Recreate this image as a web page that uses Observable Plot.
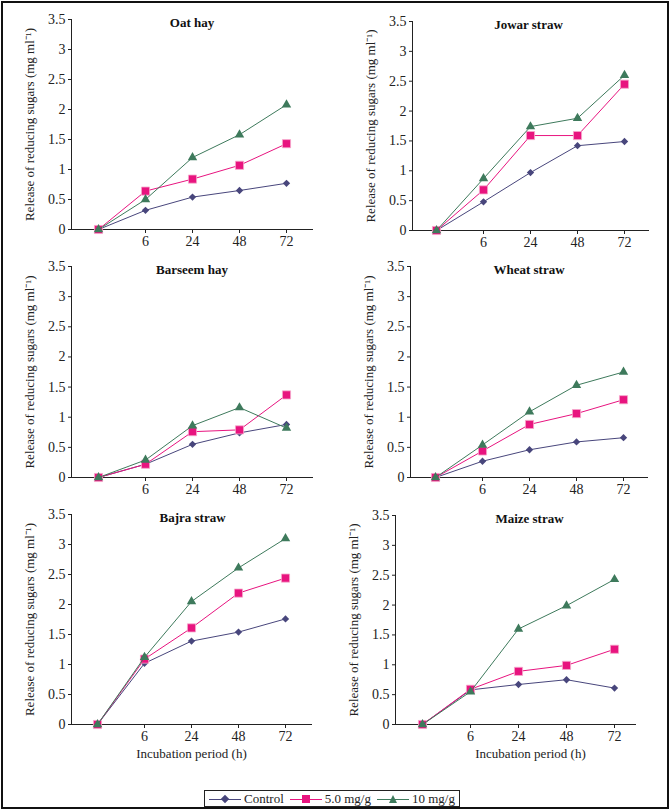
<!DOCTYPE html>
<html>
<head>
<meta charset="utf-8">
<script src="https://cdn.jsdelivr.net/npm/d3@7"></script>
<script src="https://cdn.jsdelivr.net/npm/@observablehq/plot@0.6"></script>
<style>
  body { margin: 0; background: #fff; }
  #chart { position: relative; width: 670px; height: 811px; font-family: "Liberation Serif", "Times New Roman", serif; color: #222; }
  .outer { position: absolute; left: 1px; top: 1px; width: 668px; height: 808px; box-sizing: border-box; border: 2px solid #111; pointer-events: none; }
  .panel { position: absolute; }
  .legend { position: absolute; left: 204px; top: 790px; width: 256px; height: 17px; box-sizing: border-box; border: 1px solid #222; background: #fff;
            display: flex; align-items: center; justify-content: center; font-size: 13px; line-height: 13px; white-space: nowrap; }
  .item { display: flex; align-items: center; gap: 3px; margin: 0 3px; white-space: nowrap; }
  .sw { position: relative; width: 32px; height: 12px; display: inline-block; flex: none; }
  .sw .ln { position: absolute; left: 0; right: 0; top: 6px; height: 0; border-top: 1px solid; }
  .sw .mk { position: absolute; left: 50%; top: 50%; }
</style>
</head>
<body>
<div id="chart"><div class="outer"></div></div>
<script>
// ---------- data ----------
const panelTitles = ["Oat hay", "Jowar straw", "Barseem hay", "Wheat straw", "Bajra straw", "Maize straw"];
const hours = ["0", "6", "24", "48", "72"];          // incubation period categories (h)
const xTickLabels = ["6", "24", "48", "72"];
const yTicks = [0, 0.5, 1, 1.5, 2, 2.5, 3, 3.5];
const seriesNames = ["Control", "5.0 mg/g", "10 mg/g"];
const seriesColors = ["#48467c", "#e8147f", "#3e7a5c"];
const seriesSymbols = ["diamond2", "square", "triangle"];

const controlValues = [
  [0, 0.32, 0.54, 0.65, 0.77],   // Oat hay
  [0, 0.48, 0.97, 1.42, 1.49],   // Jowar straw
  [0, 0.22, 0.55, 0.74, 0.88],   // Barseem hay
  [0, 0.27, 0.46, 0.59, 0.66],   // Wheat straw
  [0, 1.02, 1.39, 1.54, 1.76],   // Bajra straw
  [0, 0.58, 0.67, 0.75, 0.61]    // Maize straw
];
const dose5Values = [
  [0, 0.64, 0.84, 1.07, 1.43],
  [0, 0.68, 1.59, 1.59, 2.45],
  [0, 0.22, 0.76, 0.79, 1.37],
  [0, 0.44, 0.88, 1.06, 1.29],
  [0, 1.09, 1.61, 2.19, 2.44],
  [0, 0.59, 0.89, 0.99, 1.26]
];
const dose10Values = [
  [0, 0.50, 1.20, 1.58, 2.08],
  [0, 0.87, 1.74, 1.88, 2.60],
  [0, 0.29, 0.86, 1.16, 0.82],
  [0, 0.54, 1.09, 1.53, 1.75],
  [0, 1.12, 2.05, 2.61, 3.10],
  [0, 0.55, 1.60, 1.99, 2.43]
];
const yLabel = "Release of reducing sugars (mg ml\u207B\u00B9)";
const xLabel = "Incubation period (h)";

// ---------- layout (pixel geometry only) ----------
const layout = [
  {left: 0,   top: 0,   h: 247, ml: 71, mt: 19, zero: 229, x0: 72, x1: 311, right: 312, titleDx: 0},
  {left: 335, top: 0,   h: 247, ml: 77, mt: 21, zero: 230, x0: 77, x1: 312, right: 313, titleDx: -2},
  {left: 0,   top: 247, h: 247, ml: 71, mt: 19, zero: 230, x0: 72, x1: 311, right: 312, titleDx: 0},
  {left: 335, top: 247, h: 247, ml: 75, mt: 19, zero: 230, x0: 76, x1: 312, right: 312, titleDx: 0},
  {left: 0,   top: 495, h: 272, ml: 71, mt: 19, zero: 229, x0: 72, x1: 310, right: 311, titleDx: 1, xlab: true, xlabDx: 0},
  {left: 335, top: 495, h: 272, ml: 60, mt: 20, zero: 229, x0: 61, x1: 305, right: 300, titleDx: 14, xlab: true, xlabDx: 15}
];
const symbolR = [3.3, 4.6, 3.5];

const chart = document.getElementById("chart");
const allSeries = [controlValues, dose5Values, dose10Values];
const FONT = '"Liberation Serif", "Times New Roman", serif';

panelTitles.forEach((title, p) => {
  const L = layout[p];
  const W = 335;
  const marks = [
    Plot.frame({anchor: "left", stroke: "#222", strokeWidth: 1}),
    Plot.frame({anchor: "bottom", stroke: "#222", strokeWidth: 1}),
    Plot.axisY({ticks: yTicks, tickFormat: d => String(d), tickSize: 3, tickPadding: 3, label: null, fontSize: 14, fontFamily: FONT}),
    Plot.axisX({ticks: xTickLabels, tickSize: 4, tickPadding: 3, label: null, fontSize: 14, fontFamily: FONT})
  ];
  allSeries.forEach((vals, s) => {
    const rows = hours.map((h, i) => ({hour: h, value: vals[p][i]}));
    marks.push(Plot.line(rows, {x: "hour", y: "value", stroke: seriesColors[s], strokeWidth: 1}));
    marks.push(Plot.dot(rows, {
      x: "hour", y: "value", symbol: () => seriesSymbols[s], r: symbolR[s],
      fill: seriesColors[s],
      stroke: s === 1 ? "#f6a9cd" : "none", strokeWidth: s === 1 ? 0.8 : 0
    }));
  });
  marks.push(Plot.text([title], {text: d => d, frameAnchor: "top", textAnchor: "middle", dy: -2, dx: L.titleDx, fontWeight: "bold", fontSize: 13, fontFamily: FONT, fill: "#111"}));
  marks.push(Plot.text([yLabel], {text: d => d, frameAnchor: "left", textAnchor: "middle", rotate: -90, dx: -42, lineAnchor: "middle", fontSize: 13, fontFamily: FONT, fill: "#222"}));
  if (L.xlab) {
    marks.push(Plot.text([xLabel], {text: d => d, frameAnchor: "bottom", textAnchor: "middle", dy: 29, dx: L.xlabDx, lineAnchor: "middle", fontSize: 13, fontFamily: FONT, fill: "#222"}));
  }
  const svg = Plot.plot({
    width: W,
    height: L.h,
    marginLeft: L.ml,
    marginTop: L.mt,
    marginBottom: L.h - L.zero,
    marginRight: W - L.right,
    style: {fontFamily: FONT, fontSize: "14px", color: "#222", background: "transparent", overflow: "visible"},
    x: {type: "point", domain: hours, range: [L.x0, L.x1]},
    y: {domain: [0, 3.5], ticks: yTicks},
    symbol: {type: "identity"},
    marks
  });
  const div = document.createElement("div");
  div.className = "panel";
  div.style.left = L.left + "px";
  div.style.top = L.top + "px";
  div.appendChild(svg);
  chart.appendChild(div);
});

// ---------- legend ----------
const legend = document.createElement("div");
legend.className = "legend";
seriesNames.forEach((name, s) => {
  const item = document.createElement("span");
  item.className = "item";
  const sw = document.createElement("span");
  sw.className = "sw";
  const ln = document.createElement("span");
  ln.className = "ln";
  ln.style.borderColor = seriesColors[s];
  const mk = document.createElement("span");
  mk.className = "mk";
  if (s === 0) {
    mk.style.cssText += `width:6px;height:6px;background:${seriesColors[s]};transform:translate(-50%,-50%) rotate(45deg);margin-top:0.5px;`;
  } else if (s === 1) {
    mk.style.cssText += `width:8px;height:8px;background:${seriesColors[s]};transform:translate(-50%,-50%);margin-top:0.5px;`;
  } else {
    mk.style.cssText += `width:0;height:0;border-left:4.5px solid transparent;border-right:4.5px solid transparent;border-bottom:8px solid ${seriesColors[s]};transform:translate(-50%,-50%);`;
  }
  sw.appendChild(ln);
  sw.appendChild(mk);
  const label = document.createElement("span");
  label.textContent = name;
  item.appendChild(sw);
  item.appendChild(label);
  legend.appendChild(item);
});
chart.appendChild(legend);
</script>
</body>
</html>
